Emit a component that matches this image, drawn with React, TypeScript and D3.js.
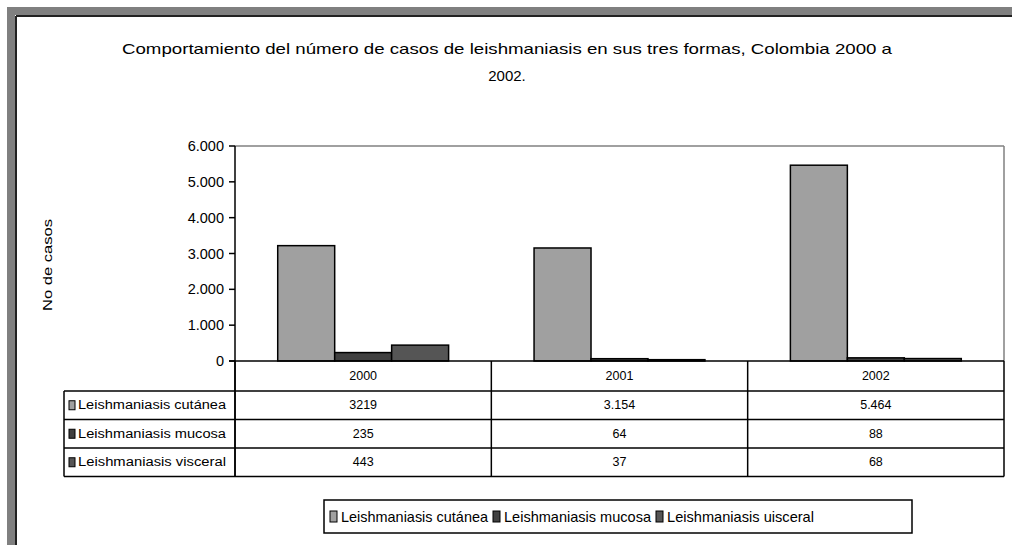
import React from "react";
import * as d3 from "d3";

const years = ["2000", "2001", "2002"];
const seriesNames = ["Leishmaniasis cutánea", "Leishmaniasis mucosa", "Leishmaniasis visceral"];
const legendNames = ["Leishmaniasis cutánea", "Leishmaniasis mucosa", "Leishmaniasis uisceral"];
const cutanea = [3219, 3154, 5464];
const mucosa = [235, 64, 88];
const visceral = [443, 37, 68];
const tableLabels = [
  ["3219", "3.154", "5.464"],
  ["235", "64", "88"],
  ["443", "37", "68"],
];
const yTicks = [0, 1000, 2000, 3000, 4000, 5000, 6000];
const colors = ["#a0a0a0", "#404040", "#555555"];

const W = 1012;
const H = 545;

export default function App() {
  const values = [cutanea, mucosa, visceral];
  const x = d3.scaleBand<string>().domain(years).range([235, 1004]).padding(0);
  const xs = d3
    .scaleBand<string>()
    .domain(seriesNames)
    .range([0, x.bandwidth()])
    .paddingInner(0)
    .paddingOuter(0.75);
  const y = d3.scaleLinear().domain([0, 6000]).range([361, 146]);
  const fmt = (v: number) => (v === 0 ? "0" : d3.format(",")(v).replace(/,/g, "."));

  const tableTop = 361;
  const headerH = 30;
  const rowH = 28.5;
  const rowY = (i: number) => tableTop + headerH + i * rowH;
  const tableBottom = rowY(3);
  const labelLeft = 64;
  const font = "'Liberation Sans', Arial, sans-serif";

  const legendX = 324;
  const legendW = 588;
  const legendItemX = [330, 493, 656];

  return (
    <div style={{ position: "absolute", left: 0, top: 0 }}>
      <svg width={W} height={H} style={{ display: "block", background: "#fff" }} fontFamily={font}>
        {/* frame */}
        <rect x={7} y={7} width={W - 7} height={8} fill="#808080" />
        <rect x={7} y={7} width={8} height={H - 7} fill="#808080" />
        <line x1={16} y1={16} x2={W} y2={16} stroke="#222" strokeWidth={2} />
        <line x1={16} y1={16} x2={16} y2={H} stroke="#222" strokeWidth={2} />

        {/* title */}
        <text x={507} y={54} textAnchor="middle" fontSize={15} textLength={770} lengthAdjust="spacingAndGlyphs">
          Comportamiento del número de casos de leishmaniasis en sus tres formas, Colombia 2000 a
        </text>
        <text x={507} y={81} textAnchor="middle" fontSize={15}>
          2002.
        </text>

        {/* y label */}
        <text transform="translate(52,265) rotate(-90)" textAnchor="middle" fontSize={13} textLength={92} lengthAdjust="spacingAndGlyphs">
          No de casos
        </text>

        {/* plot border */}
        <line x1={235} y1={146} x2={1004} y2={146} stroke="#808080" strokeWidth={1.5} />
        <line x1={1004} y1={146} x2={1004} y2={361} stroke="#808080" strokeWidth={1.5} />

        {/* bars */}
        {years.map((yr, i) => (
          <g key={yr}>
            {seriesNames.map((s, j) => {
              const v = values[j][i];
              const x0 = (x(yr) as number) + (xs(s) as number);
              return (
                <rect
                  key={s}
                  x={x0}
                  y={y(v)}
                  width={xs.bandwidth()}
                  height={361 - y(v)}
                  fill={colors[j]}
                  stroke="#000"
                  strokeWidth={1.5}
                />
              );
            })}
          </g>
        ))}

        {/* y axis */}
        <line x1={235} y1={146} x2={235} y2={tableTop} stroke="#000" strokeWidth={1.5} />
        <line x1={229} y1={361} x2={1004} y2={361} stroke="#000" strokeWidth={1.5} />
        {yTicks.map((t) => (
          <g key={t}>
            <line x1={229} x2={235} y1={y(t)} y2={y(t)} stroke="#000" strokeWidth={1.5} />
            <text x={224} y={y(t) + 5} textAnchor="end" fontSize={14.5}>
              {fmt(t)}
            </text>
          </g>
        ))}

        {/* data table */}
        <g stroke="#000" strokeWidth={1.5} fill="none">
          <line x1={235} y1={tableTop} x2={235} y2={tableBottom} />
          <line x1={1004} y1={tableTop} x2={1004} y2={tableBottom} />
          {years.map((yr) => (
            <line key={yr} x1={x(yr) as number} x2={x(yr) as number} y1={tableTop} y2={tableBottom} />
          ))}
          <line x1={labelLeft} y1={rowY(0)} x2={labelLeft} y2={tableBottom} />
          {[0, 1, 2, 3].map((i) => (
            <line key={i} x1={labelLeft} x2={1004} y1={rowY(i)} y2={rowY(i)} />
          ))}
        </g>
        {years.map((yr) => (
          <text
            key={yr}
            x={(x(yr) as number) + x.bandwidth() / 2}
            y={tableTop + headerH / 2 + 4}
            textAnchor="middle"
            fontSize={12.5}
          >
            {yr}
          </text>
        ))}
        {seriesNames.map((s, j) => (
          <g key={s}>
            <rect x={69} y={rowY(j) + rowH / 2 - 4.5} width={6} height={9} fill={colors[j]} stroke="#000" strokeWidth={1} />
            <text x={78} y={rowY(j) + rowH / 2 + 4} fontSize={12} textLength={148} lengthAdjust="spacingAndGlyphs">
              {s}
            </text>
            {years.map((yr, i) => (
              <text
                key={yr}
                x={(x(yr) as number) + x.bandwidth() / 2}
                y={rowY(j) + rowH / 2 + 4}
                textAnchor="middle"
                fontSize={12.5}
              >
                {tableLabels[j][i]}
              </text>
            ))}
          </g>
        ))}

        {/* legend */}
        <rect x={legendX} y={500} width={legendW} height={33} fill="#fff" stroke="#000" strokeWidth={1.5} />
        {legendNames.map((s, j) => (
          <g key={s}>
            <rect x={legendItemX[j]} y={511} width={7} height={11} fill={colors[j]} stroke="#000" strokeWidth={1} />
            <text x={legendItemX[j] + 11} y={521.5} fontSize={14.5} textLength={147} lengthAdjust="spacingAndGlyphs">
              {s}
            </text>
          </g>
        ))}
      </svg>
    </div>
  );
}
